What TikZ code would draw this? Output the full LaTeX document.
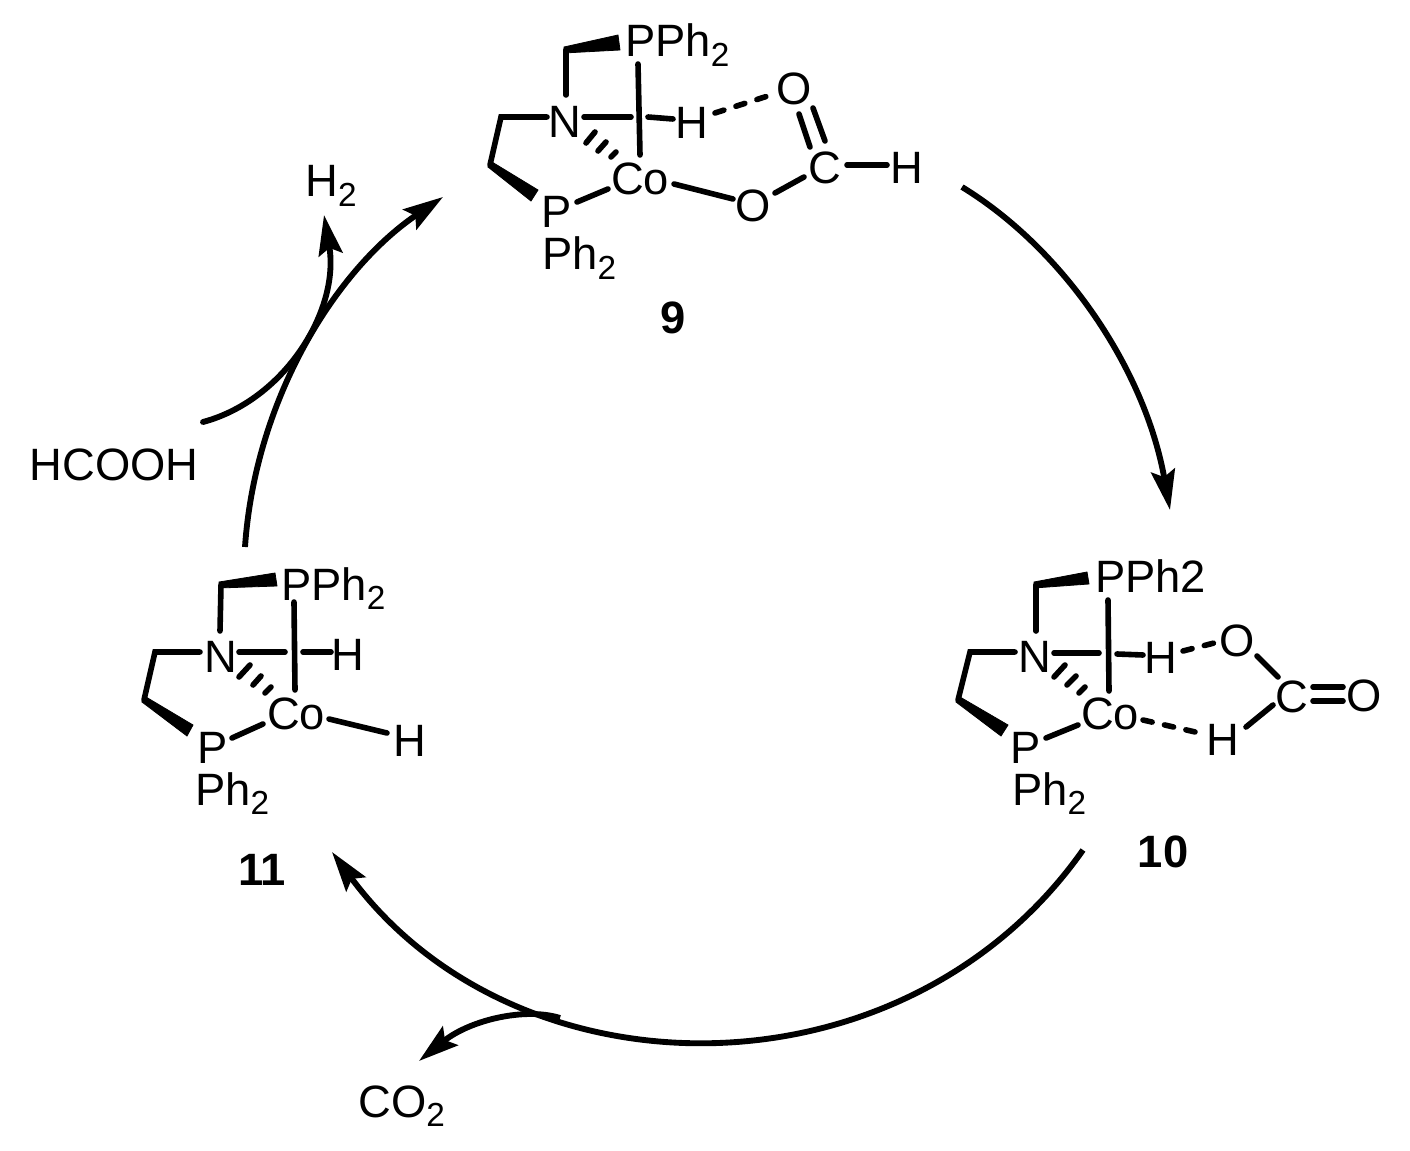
\documentclass[tikz,border=0pt]{standalone}
\usepackage{fontspec}
\setmainfont{Liberation Sans}
\usetikzlibrary{arrows.meta}
\newcommand{\sbs}[1]{\raisebox{-7pt}{\fontsize{25}{25}\selectfont #1}}
\newcommand{\bnd}[3]{\coordinate (#1a) at (#2); \coordinate (#1b) at (#3); \draw[bondline] (#1a) -- (#1b);}
\newcommand{\hbnd}[3]{\coordinate (#1a) at (#2); \coordinate (#1b) at (#3); \draw[hbondline] (#1a) -- (#1b);}
\tikzset{
  atom/.style={inner sep=0pt,font=\fontsize{34}{34}\selectfont},
  lab/.style={inner sep=0pt,anchor=base west,font=\fontsize{34}{34}\selectfont},
  cpd/.style={inner sep=0pt,font=\fontsize{34}{34}\selectfont\bfseries},
  bondline/.style={line width=4.2pt,line cap=round,line join=miter},
  hbondline/.style={line width=4.2pt,line cap=round,dash pattern=on 7pt off 9.5pt},
  wedge/.style={fill=black,draw=black,line width=0.6pt,line join=miter},
  cyc/.style={line width=4.4pt,-{Stealth[length=30pt,width=18pt,inset=5pt]}}
}
\begin{document}
\begin{tikzpicture}[x=0.75pt,y=-0.75pt]
\useasboundingbox (0,0) rectangle (1410,1151);
% ---------- 9
\node[lab] (p9a) at (625,57) {PPh\sbs{2}};
\node[atom] (n9) at (565,122) {N};
\node[atom] (h9a) at (692,123) {H};
\node[atom] (co9) at (640,179) {Co};
\node[atom] (o9a) at (794,89) {O};
\node[atom] (o9b) at (753,206) {O};
\node[atom] (c9) at (825,168) {C};
\node[atom] (h9b) at (907,168) {H};
\node[atom] (p9b) at (557,212) {P};
\node[lab] (ph9) at (542,270) {Ph\sbs{2}};
\node[cpd] (l9) at (673,318) {9};
\bnd{k1}{566,95}{566,50}
\fill[wedge] (564,47) -- (618,35) -- (620,50) -- (564,53) -- cycle;
\draw[bondline] (547,117) -- (501,117) -- (490,165);
\fill[wedge] (492,162) -- (538,190) -- (531,201) -- (488,167) -- cycle;
\bnd{k2}{584,117}{631,117}
\bnd{k3}{648,117}{673,119}
\bnd{k4}{638,64}{640,155}
\bnd{k5}{586,143}{595,132}
\bnd{k6}{598,151}{606,142}
\bnd{k7}{611,157}{616,152}
\bnd{k8}{577,202}{608,189}
\bnd{k9}{674,184}{733,199}
\bnd{k10}{775,193}{804,177}
\bnd{k11}{847,165}{887,165}
\bnd{k12}{799,114}{810,147}
\bnd{k13}{813,108}{825,141}
\hbnd{k14}{715,113}{774,94}
% ---------- 10
\node[lab] (p10a) at (1095,592) {PPh2};
\node[atom] (n10) at (1035,657) {N};
\node[atom] (h10a) at (1161,658) {H};
\node[atom] (co10) at (1110,714) {Co};
\node[atom] (o10a) at (1237,641) {O};
\node[atom] (c10) at (1292,697) {C};
\node[atom] (o10b) at (1364,696) {O};
\node[atom] (h10b) at (1223,740) {H};
\node[atom] (p10b) at (1026,748) {P};
\node[lab] (ph10) at (1012,805) {Ph\sbs{2}};
\node[cpd] (l10) at (1163,852) {10};
\bnd{m1}{1036,631}{1036,585}
\fill[wedge] (1034,582) -- (1087,572) -- (1089,584) -- (1034,588) -- cycle;
\draw[bondline] (1015,652) -- (970,652) -- (958,700);
\fill[wedge] (960,697) -- (1008,725) -- (1001,736) -- (956,702) -- cycle;
\bnd{m2}{1054,653}{1099,653}
\bnd{m3}{1117,654}{1143,655}
\bnd{m4}{1108,600}{1109,691}
\bnd{m5}{1054,677}{1065,665}
\bnd{m6}{1067,685}{1076,676}
\bnd{m7}{1079,693}{1085,687}
\bnd{m8}{1046,738}{1078,725}
\hbnd{m9}{1143,720}{1204,734}
\bnd{m10}{1246,727}{1273,705}
\bnd{m11}{1313,687}{1343,687}
\bnd{m12}{1313,701}{1343,701}
\bnd{m13}{1257,656}{1278,677}
\hbnd{m14}{1183,651}{1218,642}
% ---------- 11
\node[lab] (p11a) at (281,600) {PPh\sbs{2}};
\node[atom] (n11) at (221,657) {N};
\node[atom] (h11a) at (348,655) {H};
\node[atom] (co11) at (296,714) {Co};
\node[atom] (h11b) at (410,741) {H};
\node[atom] (p11b) at (213,748) {P};
\node[lab] (ph11) at (195,805) {Ph\sbs{2}};
\node[cpd] (l11) at (262,870) {11};
\bnd{q1}{220,631}{221,585}
\fill[wedge] (219,582) -- (275,573) -- (277,586) -- (219,588) -- cycle;
\draw[bondline] (200,652) -- (155,652) -- (144,700);
\fill[wedge] (146,697) -- (193,725) -- (187,736) -- (142,702) -- cycle;
\bnd{q2}{239,652}{285,652}
\bnd{q3}{303,652}{331,652}
\bnd{q4}{294,602}{295,690}
\bnd{q5}{239,677}{250,665}
\bnd{q6}{253,685}{261,676}
\bnd{q7}{265,693}{271,687}
\bnd{q8}{232,738}{263,724}
\bnd{q9}{329,719}{387,733}
% ---------- free labels
\node[lab] (h2) at (305,197) {H\sbs{2}};
\node[atom] (hcooh) at (114,465) {HCOOH};
\node[lab] (co2) at (358,1117) {CO\sbs{2}};
% ---------- cycle arrows
\coordinate (a1) at (962,187); \coordinate (a1t) at (1170,510);
\draw[cyc] (a1) .. controls (1065,250) and (1145,370) .. (a1t);
\coordinate (a2) at (1083,850); \coordinate (a2t) at (332,852);
\draw[cyc] (a2) .. controls (905,1103) and (518,1103) .. (a2t);
\coordinate (a3) at (245,547); \coordinate (a3t) at (443,197);
\draw[cyc] (a3) .. controls (255,400) and (335,270) .. (a3t);
\coordinate (a4) at (203,422); \coordinate (a4t) at (324,215);
\draw[cyc,line cap=round] (a4) .. controls (285,400) and (340,310) .. (a4t);
\coordinate (a5) at (560,1018); \coordinate (a5t) at (419,1061);
\draw[cyc] (a5) .. controls (525,1007) and (470,1020) .. (a5t);
\end{tikzpicture}
\end{document}
